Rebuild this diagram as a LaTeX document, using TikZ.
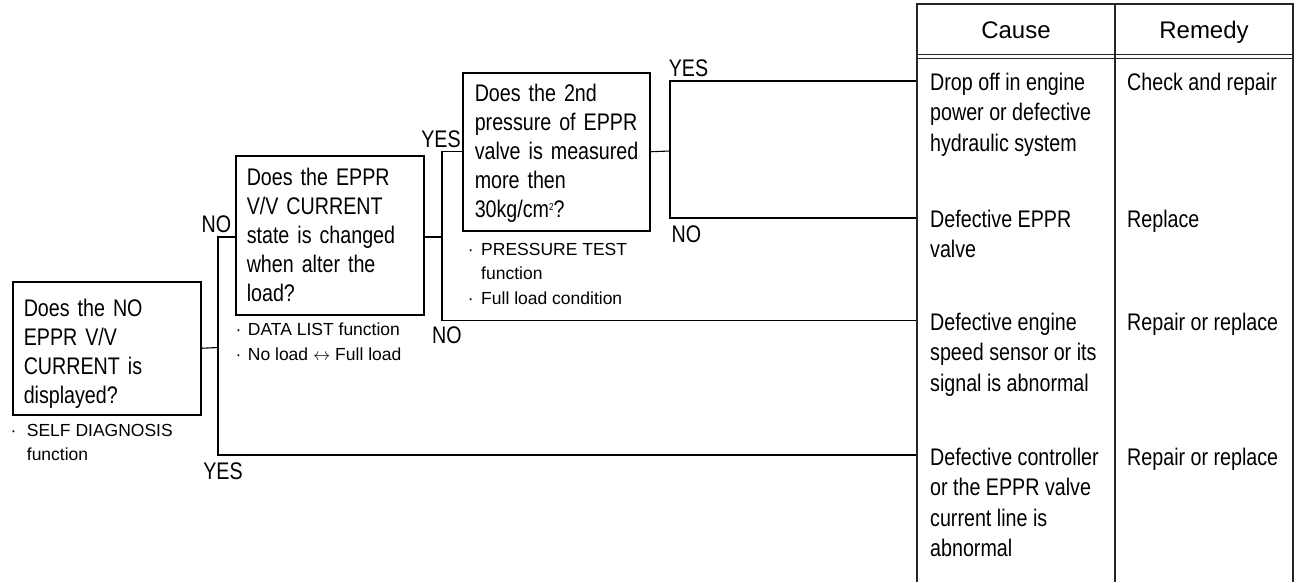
\documentclass[tikz,border=0pt]{standalone}
\usepackage{fontspec}
\setmainfont{Liberation Sans}
\newfontfamily\narrowfont[FakeStretch=0.82]{Liberation Sans}
\begin{document}
\begin{tikzpicture}[x=1pt, y=-1pt,
  qbox/.style={draw, line width=1.5pt, anchor=north west, inner ysep=0pt, align=left,
    font=\narrowfont\fontsize{24pt}{29pt}\selectfont},
  conn/.style={line width=1.1pt},
  lab/.style={anchor=base, inner sep=0pt, font=\narrowfont\fontsize{24pt}{29pt}\selectfont},
  note/.style={anchor=north west, inner sep=0pt, align=left, font=\fontsize{17.5pt}{24.5pt}\selectfont},
  cell/.style={anchor=north west, inner sep=0pt, align=left, font=\narrowfont\fontsize{24pt}{30.5pt}\selectfont},
  head/.style={anchor=base, inner sep=0pt, font=\fontsize{24pt}{29pt}\selectfont},
  tbl/.style={line width=1.2pt, black!85}]

\useasboundingbox (0,0) rectangle (1298,582);

% question boxes
\node[qbox, inner xsep=11pt, text width=166pt] (b1) at (12,281)
  {\rule{0pt}{35pt}\mbox{Does the NO}\\\mbox{EPPR V/V}\\\mbox{CURRENT is}\\\mbox{displayed?}\rule[-11pt]{0pt}{11pt}};
\node[qbox, inner xsep=11pt, text width=166pt] (b2) at (235,155)
  {\rule{0pt}{30pt}\mbox{Does the EPPR}\\\mbox{V/V CURRENT}\\\mbox{state is changed}\\\mbox{when alter the}\\\mbox{load?}\rule[-13pt]{0pt}{13pt}};
\node[qbox, inner xsep=12pt, text width=163pt] (b3) at (462,72)
  {\rule{0pt}{28.7pt}\mbox{Does the 2nd}\\\mbox{pressure of EPPR}\\\mbox{valve is measured}\\\mbox{more then}\\\mbox{30kg/cm\raisebox{7pt}{\fontsize{10pt}{10pt}\selectfont 2}?}\rule[-13.3pt]{0pt}{13.3pt}};

% notes
\node[note] (n1) at (10.3,422)
  {\rule{0pt}{14pt}\makebox[16.4pt][l]{·}SELF DIAGNOSIS\\\hspace*{16.4pt}function};
\node[note] (n2) at (235.3,321.7)
  {\rule{0pt}{14pt}\makebox[12.4pt][l]{·}DATA LIST function\\\makebox[12.4pt][l]{·}No load $\leftrightarrow$ Full load};
\node[note] (n3) at (467.6,241)
  {\rule{0pt}{14pt}\makebox[13.4pt][l]{·}PRESSURE TEST\\\hspace*{13.4pt}function\\\makebox[13.4pt][l]{·}Full load condition};

% junctions and table entry points
\coordinate (j1) at (218,347.5);
\coordinate (j2) at (442,237);
\coordinate (j3) at (670,151);
\coordinate (r1) at (917,81);
\coordinate (r2) at (917,218);
\coordinate (r3) at (917,320.5);
\coordinate (r4) at (917,455);

% connectors
\draw[conn] (b1.east) -- (j1);
\draw[conn] (j1) |- (b2.west |- j2);
\draw[conn] (j1) |- (r4);
\draw[conn] (b2.east |- j2) -- (j2);
\draw[conn] (j2) |- (b3.west);
\draw[conn] (j2) |- (r3);
\draw[conn] (b3.east) -- (j3);
\draw[conn] (j3) |- (r1);
\draw[conn] (j3) |- (r2);

% labels
\node[lab] (yes1) at (223,479) {YES};
\node[lab] (no1) at (216.5,232) {NO};
\node[lab] (yes2) at (441,147) {YES};
\node[lab] (no2) at (447,343) {NO};
\node[lab] (yes3) at (688.5,76) {YES};
\node[lab] (no3) at (686.5,242) {NO};

% table
\draw[tbl] (917,582) -- (917,4) -- (1293,4) -- (1293,582);
\draw[tbl] (1115,4) -- (1115,582);
\draw[line width=0.8pt, black!85] (917,54) -- (1293,54) (917,58) -- (1293,58);
\node[head] (hc) at (1016,38.5) {Cause};
\node[head] (hr) at (1204,38.5) {Remedy};

\node[cell] (c1) at (930,70) {\rule{0pt}{20pt}Drop off in engine\\power or defective\\hydraulic system};
\node[cell] (m1) at (1127,70) {\rule{0pt}{20pt}Check and repair};
\node[cell] (c2) at (930,207) {\rule{0pt}{20pt}Defective EPPR\\valve};
\node[cell] (m2) at (1127,207) {\rule{0pt}{20pt}Replace};
\node[cell] (c3) at (930,310) {\rule{0pt}{20pt}Defective engine\\speed sensor or its\\signal is abnormal};
\node[cell] (m3) at (1127,310) {\rule{0pt}{20pt}Repair or replace};
\node[cell] (c4) at (930,445) {\rule{0pt}{20pt}Defective controller\\or the EPPR valve\\current line is\\abnormal};
\node[cell] (m4) at (1127,445) {\rule{0pt}{20pt}Repair or replace};
\end{tikzpicture}
\end{document}
